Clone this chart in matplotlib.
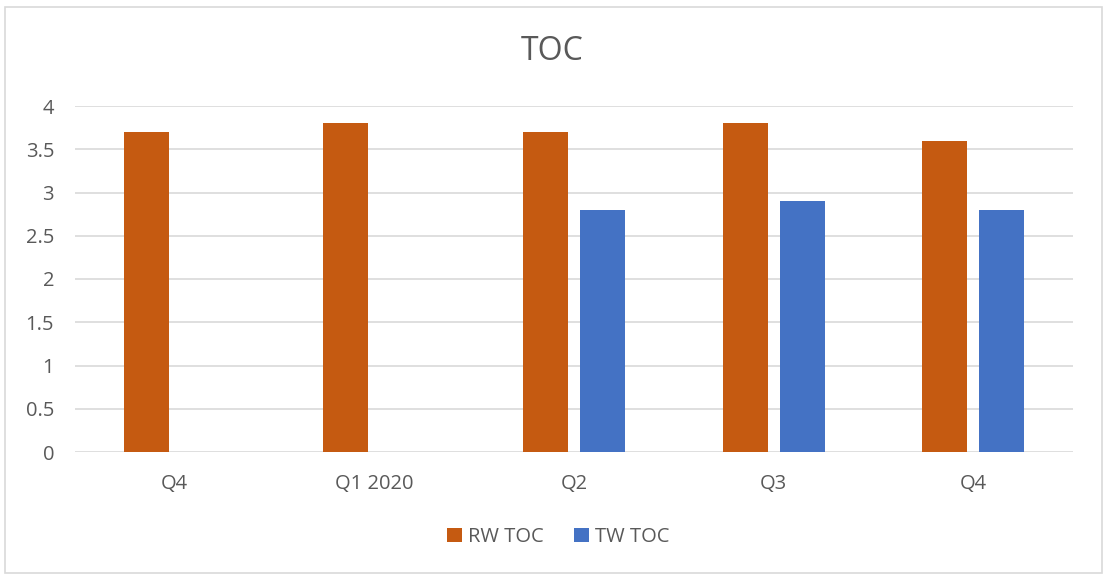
import numpy as np
import matplotlib
matplotlib.use("Agg")
import matplotlib.pyplot as plt
from matplotlib.patches import Rectangle

# data
quarters = ["Q4", "Q1 2020", "Q2", "Q3", "Q4"]
rw_toc = [3.7, 3.8, 3.7, 3.8, 3.6]
tw_toc = [np.nan, np.nan, 2.8, 2.9, 2.8]

orange = "#C55A11"
blue = "#4472C4"
txt = "#595959"
grid = "#D9D9D9"

plt.rcParams["font.family"] = ["Open Sans", "DejaVu Sans"]

fig = plt.figure(figsize=(11.05, 5.76), dpi=100)
fig.patches.append(Rectangle((5 / 1105, 3 / 576), 1097 / 1105, 566 / 576,
                             transform=fig.transFigure, fill=False,
                             edgecolor="#D9D9D9", linewidth=1.2))
ax = fig.add_axes([75 / 1105, 1 - 452 / 576, 998 / 1105, 346 / 576])

x = np.arange(len(quarters))
w = 0.225
ax.bar(x - 0.143, rw_toc, w, color=orange, label="RW TOC", zorder=3)
ax.bar(x + 0.143, tw_toc, w, color=blue, label="TW TOC", zorder=3)

ax.set_xlim(-0.5, len(quarters) - 0.5)
ax.set_ylim(0, 4)
ax.set_yticks(np.arange(0, 4.01, 0.5))
ax.set_yticklabels(["0", "0.5", "1", "1.5", "2", "2.5", "3", "3.5", "4"])
ax.set_xticks(x)
ax.set_xticklabels(quarters)
ax.yaxis.grid(True, color=grid, linewidth=1.2, zorder=0)
ax.tick_params(length=0, labelsize=14.5, colors=txt)
ax.tick_params(axis="y", pad=15)
ax.tick_params(axis="x", pad=16)
for s in ax.spines.values():
    s.set_visible(False)

fig.text(0.5, 1 - 52 / 576, "TOC", ha="center", va="center", fontsize=23, color=txt)

leg = fig.legend(loc="center", bbox_to_anchor=(0.505, 1 - 537 / 576), ncol=2,
                 frameon=False, fontsize=14.5, handlelength=0.75, handleheight=0.75,
                 columnspacing=1.5, handletextpad=0.3)
for t in leg.get_texts():
    t.set_color(txt)

fig.savefig("out.png", dpi=100)
